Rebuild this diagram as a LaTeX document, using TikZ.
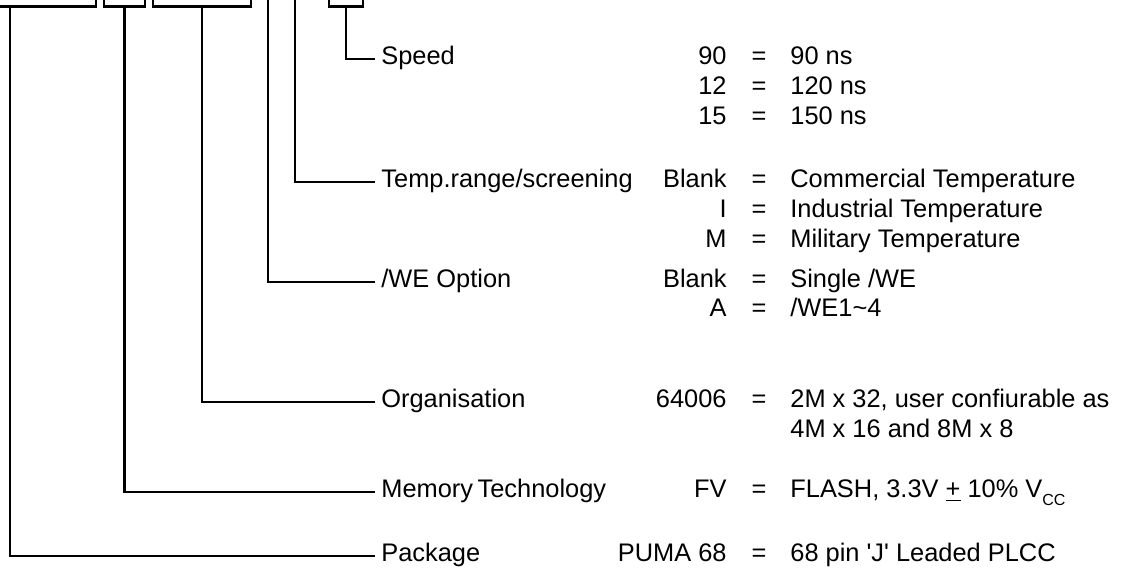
\documentclass[tikz,border=0pt]{standalone}
\usepackage{fontspec}
\setmainfont{Liberation Sans}
\tikzset{
  partbox/.style = {shape=rectangle, draw, line width=1.4pt,
                    anchor=south, minimum height=20pt},
  field/.style   = {anchor=mid west, inner xsep=2.5pt, inner ysep=0pt},
  code/.style    = {anchor=mid east, inner sep=0pt},
  eqsign/.style  = {anchor=mid, inner sep=0pt},
  desc/.style    = {anchor=mid west, inner sep=0pt}
}

\begin{document}
\begin{tikzpicture}
  [
  x = 0.5pt, y = -0.5pt,
  line width = 1.4pt,
  every node/.style = {font = \fontsize{12.7}{15}\selectfont}
  ]
  \useasboundingbox (0,0) rectangle (1142,572);
  \clip (0,0) rectangle (1142,572);

  % part number boxes (cut at the top)
  \node[partbox, minimum width=86pt]   (pkgbox) at (10,8)    {};
  \node[partbox, minimum width=20.5pt] (techbox) at (124.5,8) {};
  \node[partbox, minimum width=49pt]   (orgbox) at (202,8)   {};
  \node[partbox, minimum width=17pt]   (spdbox) at (346,8)   {};
  \coordinate (wetop)  at (268,-30);
  \coordinate (tmptop) at (295,-30);

  % field names
  \node[field] (speed) at (375,59)  {Speed};
  \node[field] (temp)  at (375,182) {Temp.range/screening};
  \node[field] (weopt) at (375,282) {/WE Option};
  \node[field] (org)   at (375,402) {Organisation};
  \node[field] (tech)  at (375,492) {Memory\kern-0.1em\ Technology};
  \node[field] (pkg)   at (375,556) {Package};

  \draw (spdbox.south) |- (speed.mid west);
  \draw (tmptop) |- (temp.mid west);
  \draw (wetop) |- (weopt.mid west);
  \draw (orgbox.south) |- (org.mid west);
  \draw (techbox.south) |- (tech.mid west);
  \draw (pkgbox.south) |- (pkg.mid west);

  % codes
  \foreach \y/\c/\d in {59/90/90 ns, 89/12/120 ns, 119/15/150 ns,
      182/Blank/Commercial Temperature, 212/I/Industrial Temperature,
      242/M/Military Temperature,
      282/Blank/{Single /WE}, 311/A/{/WE1\textasciitilde4},
      402/64006/{2M x 32, user confiurable as},
      492/FV/{FLASH, 3.3V \underline{+} 10\% V\raisebox{-0.6ex}{\fontsize{8}{8}\selectfont CC}},
      556/PUMA 68/{68 pin \textquotesingle J\textquotesingle{} Leaded PLCC}}
  {
    \node[code]   (c\y) at (728,\y) {\c};
    \node[eqsign] (e\y) at (759,\y) {=};
    \node[desc]   (d\y) at (789,\y) {\d};
  }
  \node[desc] (d432) at (789,432) {4M x 16 and 8M x 8};
\end{tikzpicture}
\end{document}
